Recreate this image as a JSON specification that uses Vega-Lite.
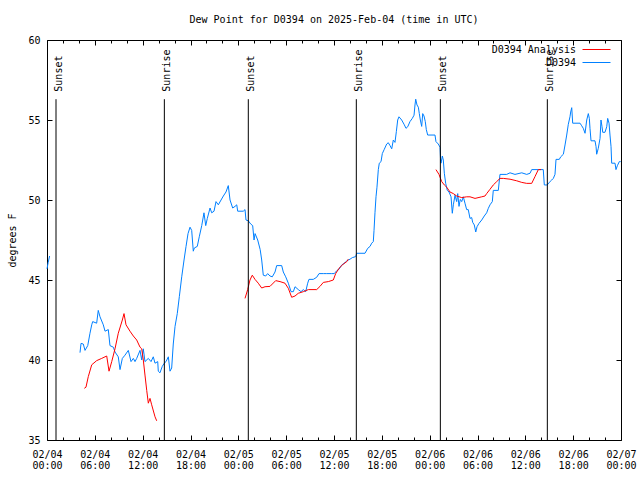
{
  "$schema": "https://vega.github.io/schema/vega-lite/v6.json",
  "width": 574,
  "height": 400,
  "autosize": "none",
  "padding": {"left": 47, "top": 40, "right": 19, "bottom": 40},
  "background": "white",
  "config": {
    "font": "DejaVu Sans Mono",
    "view": {"stroke": "black", "strokeWidth": 1},
    "axis": {"labelFont": "DejaVu Sans Mono", "labelFontSize": 10, "labelColor": "black", "titleFont": "DejaVu Sans Mono", "titleFontSize": 10, "titleFontWeight": "normal", "titleColor": "black", "tickColor": "black", "tickWidth": 1, "domain": false, "grid": false},
    "legend": {"labelFont": "DejaVu Sans Mono", "labelFontSize": 10, "labelColor": "black"}
  },
  "title": {"text": "Dew Point for D0394 on 2025-Feb-04 (time in UTC)", "font": "DejaVu Sans Mono", "fontSize": 10, "fontWeight": "normal", "color": "black", "anchor": "middle", "offset": 10},
  "datasets": {
    "obs": [
      {"series": "D0394", "seg": 1, "hour": 0.0, "dewpoint": 45.7},
      {"series": "D0394", "seg": 1, "hour": 0.15, "dewpoint": 46.1},
      {"series": "D0394", "seg": 1, "hour": 0.33, "dewpoint": 46.5},
      {"series": "D0394", "seg": 2, "hour": 4.14, "dewpoint": 40.46},
      {"series": "D0394", "seg": 2, "hour": 4.27, "dewpoint": 41.04},
      {"series": "D0394", "seg": 2, "hour": 4.55, "dewpoint": 41.0},
      {"series": "D0394", "seg": 2, "hour": 4.77, "dewpoint": 40.6},
      {"series": "D0394", "seg": 2, "hour": 5.11, "dewpoint": 40.9},
      {"series": "D0394", "seg": 2, "hour": 5.39, "dewpoint": 41.67},
      {"series": "D0394", "seg": 2, "hour": 5.61, "dewpoint": 42.2},
      {"series": "D0394", "seg": 2, "hour": 5.73, "dewpoint": 42.4},
      {"series": "D0394", "seg": 2, "hour": 6.23, "dewpoint": 42.3},
      {"series": "D0394", "seg": 2, "hour": 6.43, "dewpoint": 43.1},
      {"series": "D0394", "seg": 2, "hour": 6.65, "dewpoint": 42.7},
      {"series": "D0394", "seg": 2, "hour": 7.06, "dewpoint": 42.2},
      {"series": "D0394", "seg": 2, "hour": 7.28, "dewpoint": 41.8},
      {"series": "D0394", "seg": 2, "hour": 7.69, "dewpoint": 41.9},
      {"series": "D0394", "seg": 2, "hour": 7.9, "dewpoint": 40.9},
      {"series": "D0394", "seg": 2, "hour": 8.32, "dewpoint": 40.8},
      {"series": "D0394", "seg": 2, "hour": 8.53, "dewpoint": 40.5},
      {"series": "D0394", "seg": 2, "hour": 8.94, "dewpoint": 40.2},
      {"series": "D0394", "seg": 2, "hour": 9.16, "dewpoint": 39.4},
      {"series": "D0394", "seg": 2, "hour": 9.45, "dewpoint": 40.1},
      {"series": "D0394", "seg": 2, "hour": 9.78, "dewpoint": 40.3},
      {"series": "D0394", "seg": 2, "hour": 10.2, "dewpoint": 40.6},
      {"series": "D0394", "seg": 2, "hour": 10.54, "dewpoint": 39.9},
      {"series": "D0394", "seg": 2, "hour": 10.83, "dewpoint": 40.1},
      {"series": "D0394", "seg": 2, "hour": 11.04, "dewpoint": 39.9},
      {"series": "D0394", "seg": 2, "hour": 11.25, "dewpoint": 40.1},
      {"series": "D0394", "seg": 2, "hour": 11.67, "dewpoint": 40.6},
      {"series": "D0394", "seg": 2, "hour": 11.88, "dewpoint": 40.0},
      {"series": "D0394", "seg": 2, "hour": 12.08, "dewpoint": 40.7},
      {"series": "D0394", "seg": 2, "hour": 12.29, "dewpoint": 39.9},
      {"series": "D0394", "seg": 2, "hour": 12.71, "dewpoint": 40.1},
      {"series": "D0394", "seg": 2, "hour": 13.05, "dewpoint": 39.9},
      {"series": "D0394", "seg": 2, "hour": 13.33, "dewpoint": 40.2},
      {"series": "D0394", "seg": 2, "hour": 13.55, "dewpoint": 39.8},
      {"series": "D0394", "seg": 2, "hour": 13.89, "dewpoint": 39.9},
      {"series": "D0394", "seg": 2, "hour": 13.96, "dewpoint": 39.3},
      {"series": "D0394", "seg": 2, "hour": 14.17, "dewpoint": 39.2},
      {"series": "D0394", "seg": 2, "hour": 14.46, "dewpoint": 39.6},
      {"series": "D0394", "seg": 2, "hour": 14.71, "dewpoint": 39.8},
      {"series": "D0394", "seg": 2, "hour": 14.93, "dewpoint": 39.9},
      {"series": "D0394", "seg": 2, "hour": 15.22, "dewpoint": 40.2},
      {"series": "D0394", "seg": 2, "hour": 15.43, "dewpoint": 39.3},
      {"series": "D0394", "seg": 2, "hour": 15.64, "dewpoint": 39.5},
      {"series": "D0394", "seg": 2, "hour": 15.84, "dewpoint": 41.0},
      {"series": "D0394", "seg": 2, "hour": 16.06, "dewpoint": 42.1},
      {"series": "D0394", "seg": 2, "hour": 16.34, "dewpoint": 42.9},
      {"series": "D0394", "seg": 2, "hour": 16.6, "dewpoint": 43.96},
      {"series": "D0394", "seg": 2, "hour": 16.9, "dewpoint": 45.2},
      {"series": "D0394", "seg": 2, "hour": 17.19, "dewpoint": 46.25},
      {"series": "D0394", "seg": 2, "hour": 17.44, "dewpoint": 47.1},
      {"series": "D0394", "seg": 2, "hour": 17.69, "dewpoint": 47.9},
      {"series": "D0394", "seg": 2, "hour": 17.94, "dewpoint": 48.3},
      {"series": "D0394", "seg": 2, "hour": 18.15, "dewpoint": 48.1},
      {"series": "D0394", "seg": 2, "hour": 18.35, "dewpoint": 46.8},
      {"series": "D0394", "seg": 2, "hour": 18.48, "dewpoint": 47.0},
      {"series": "D0394", "seg": 2, "hour": 18.85, "dewpoint": 47.1},
      {"series": "D0394", "seg": 2, "hour": 19.1, "dewpoint": 47.7},
      {"series": "D0394", "seg": 2, "hour": 19.41, "dewpoint": 48.4},
      {"series": "D0394", "seg": 2, "hour": 19.69, "dewpoint": 49.2},
      {"series": "D0394", "seg": 2, "hour": 19.91, "dewpoint": 48.4},
      {"series": "D0394", "seg": 2, "hour": 20.11, "dewpoint": 48.85},
      {"series": "D0394", "seg": 2, "hour": 20.45, "dewpoint": 49.5},
      {"series": "D0394", "seg": 2, "hour": 20.66, "dewpoint": 49.2},
      {"series": "D0394", "seg": 2, "hour": 20.95, "dewpoint": 49.3},
      {"series": "D0394", "seg": 2, "hour": 21.2, "dewpoint": 49.9},
      {"series": "D0394", "seg": 2, "hour": 21.49, "dewpoint": 49.7},
      {"series": "D0394", "seg": 2, "hour": 21.83, "dewpoint": 50.0},
      {"series": "D0394", "seg": 2, "hour": 22.12, "dewpoint": 50.25},
      {"series": "D0394", "seg": 2, "hour": 22.45, "dewpoint": 50.5},
      {"series": "D0394", "seg": 2, "hour": 22.74, "dewpoint": 50.9},
      {"series": "D0394", "seg": 2, "hour": 22.96, "dewpoint": 50.0},
      {"series": "D0394", "seg": 2, "hour": 23.29, "dewpoint": 49.5},
      {"series": "D0394", "seg": 2, "hour": 23.58, "dewpoint": 49.6},
      {"series": "D0394", "seg": 2, "hour": 23.8, "dewpoint": 49.7},
      {"series": "D0394", "seg": 2, "hour": 23.92, "dewpoint": 49.3},
      {"series": "D0394", "seg": 2, "hour": 24.62, "dewpoint": 49.3},
      {"series": "D0394", "seg": 2, "hour": 24.84, "dewpoint": 49.4},
      {"series": "D0394", "seg": 2, "hour": 24.96, "dewpoint": 48.75},
      {"series": "D0394", "seg": 2, "hour": 25.25, "dewpoint": 48.7},
      {"series": "D0394", "seg": 2, "hour": 25.55, "dewpoint": 48.5},
      {"series": "D0394", "seg": 2, "hour": 25.8, "dewpoint": 48.4},
      {"series": "D0394", "seg": 2, "hour": 25.97, "dewpoint": 47.5},
      {"series": "D0394", "seg": 2, "hour": 26.1, "dewpoint": 47.9},
      {"series": "D0394", "seg": 2, "hour": 26.43, "dewpoint": 47.5},
      {"series": "D0394", "seg": 2, "hour": 26.74, "dewpoint": 46.9},
      {"series": "D0394", "seg": 2, "hour": 26.93, "dewpoint": 46.25},
      {"series": "D0394", "seg": 2, "hour": 27.13, "dewpoint": 45.3},
      {"series": "D0394", "seg": 2, "hour": 27.43, "dewpoint": 45.25},
      {"series": "D0394", "seg": 2, "hour": 27.68, "dewpoint": 45.4},
      {"series": "D0394", "seg": 2, "hour": 27.97, "dewpoint": 45.25},
      {"series": "D0394", "seg": 2, "hour": 28.26, "dewpoint": 45.2},
      {"series": "D0394", "seg": 2, "hour": 28.6, "dewpoint": 45.5},
      {"series": "D0394", "seg": 2, "hour": 28.81, "dewpoint": 45.9},
      {"series": "D0394", "seg": 2, "hour": 29.44, "dewpoint": 45.9},
      {"series": "D0394", "seg": 2, "hour": 29.64, "dewpoint": 45.5},
      {"series": "D0394", "seg": 2, "hour": 29.94, "dewpoint": 45.2},
      {"series": "D0394", "seg": 2, "hour": 30.27, "dewpoint": 44.8},
      {"series": "D0394", "seg": 2, "hour": 30.61, "dewpoint": 44.27},
      {"series": "D0394", "seg": 2, "hour": 30.9, "dewpoint": 44.27},
      {"series": "D0394", "seg": 2, "hour": 31.11, "dewpoint": 44.58},
      {"series": "D0394", "seg": 2, "hour": 31.52, "dewpoint": 44.4},
      {"series": "D0394", "seg": 2, "hour": 31.86, "dewpoint": 44.27},
      {"series": "D0394", "seg": 2, "hour": 32.15, "dewpoint": 44.4},
      {"series": "D0394", "seg": 2, "hour": 32.45, "dewpoint": 44.27},
      {"series": "D0394", "seg": 2, "hour": 32.7, "dewpoint": 44.8},
      {"series": "D0394", "seg": 2, "hour": 32.86, "dewpoint": 45.04},
      {"series": "D0394", "seg": 2, "hour": 33.4, "dewpoint": 45.04},
      {"series": "D0394", "seg": 2, "hour": 33.83, "dewpoint": 45.17},
      {"series": "D0394", "seg": 2, "hour": 34.12, "dewpoint": 45.4},
      {"series": "D0394", "seg": 2, "hour": 34.66, "dewpoint": 45.4},
      {"series": "D0394", "seg": 2, "hour": 35.09, "dewpoint": 45.4},
      {"series": "D0394", "seg": 2, "hour": 35.71, "dewpoint": 45.4},
      {"series": "D0394", "seg": 2, "hour": 36.04, "dewpoint": 45.4},
      {"series": "D0394", "seg": 2, "hour": 36.34, "dewpoint": 45.58},
      {"series": "D0394", "seg": 2, "hour": 36.63, "dewpoint": 45.67},
      {"series": "D0394", "seg": 2, "hour": 36.97, "dewpoint": 45.94},
      {"series": "D0394", "seg": 2, "hour": 37.38, "dewpoint": 46.08},
      {"series": "D0394", "seg": 2, "hour": 37.59, "dewpoint": 46.2},
      {"series": "D0394", "seg": 2, "hour": 38.01, "dewpoint": 46.3},
      {"series": "D0394", "seg": 2, "hour": 38.3, "dewpoint": 46.4},
      {"series": "D0394", "seg": 2, "hour": 38.72, "dewpoint": 46.46},
      {"series": "D0394", "seg": 2, "hour": 38.85, "dewpoint": 46.67},
      {"series": "D0394", "seg": 2, "hour": 39.89, "dewpoint": 46.67},
      {"series": "D0394", "seg": 2, "hour": 40.23, "dewpoint": 46.98},
      {"series": "D0394", "seg": 2, "hour": 40.52, "dewpoint": 47.1},
      {"series": "D0394", "seg": 2, "hour": 40.73, "dewpoint": 47.3},
      {"series": "D0394", "seg": 2, "hour": 40.93, "dewpoint": 47.4},
      {"series": "D0394", "seg": 2, "hour": 41.02, "dewpoint": 48.1},
      {"series": "D0394", "seg": 2, "hour": 41.14, "dewpoint": 49.2},
      {"series": "D0394", "seg": 2, "hour": 41.27, "dewpoint": 50.2},
      {"series": "D0394", "seg": 2, "hour": 41.39, "dewpoint": 50.8},
      {"series": "D0394", "seg": 2, "hour": 41.56, "dewpoint": 51.9},
      {"series": "D0394", "seg": 2, "hour": 41.68, "dewpoint": 52.3},
      {"series": "D0394", "seg": 2, "hour": 41.9, "dewpoint": 52.4},
      {"series": "D0394", "seg": 2, "hour": 42.06, "dewpoint": 52.9},
      {"series": "D0394", "seg": 2, "hour": 42.31, "dewpoint": 53.17},
      {"series": "D0394", "seg": 2, "hour": 42.61, "dewpoint": 53.5},
      {"series": "D0394", "seg": 2, "hour": 42.81, "dewpoint": 53.58},
      {"series": "D0394", "seg": 2, "hour": 43.03, "dewpoint": 53.4},
      {"series": "D0394", "seg": 2, "hour": 43.24, "dewpoint": 53.2},
      {"series": "D0394", "seg": 2, "hour": 43.44, "dewpoint": 53.75},
      {"series": "D0394", "seg": 2, "hour": 43.65, "dewpoint": 53.6},
      {"series": "D0394", "seg": 2, "hour": 43.82, "dewpoint": 54.27},
      {"series": "D0394", "seg": 2, "hour": 43.99, "dewpoint": 55.0},
      {"series": "D0394", "seg": 2, "hour": 44.15, "dewpoint": 55.2},
      {"series": "D0394", "seg": 2, "hour": 44.49, "dewpoint": 55.0},
      {"series": "D0394", "seg": 2, "hour": 44.82, "dewpoint": 54.7},
      {"series": "D0394", "seg": 2, "hour": 45.03, "dewpoint": 54.48},
      {"series": "D0394", "seg": 2, "hour": 45.25, "dewpoint": 54.58},
      {"series": "D0394", "seg": 2, "hour": 45.53, "dewpoint": 54.9},
      {"series": "D0394", "seg": 2, "hour": 45.82, "dewpoint": 55.1},
      {"series": "D0394", "seg": 2, "hour": 46.04, "dewpoint": 55.3},
      {"series": "D0394", "seg": 2, "hour": 46.16, "dewpoint": 55.94},
      {"series": "D0394", "seg": 2, "hour": 46.25, "dewpoint": 56.3},
      {"series": "D0394", "seg": 2, "hour": 46.41, "dewpoint": 55.94},
      {"series": "D0394", "seg": 2, "hour": 46.58, "dewpoint": 55.8},
      {"series": "D0394", "seg": 2, "hour": 46.7, "dewpoint": 55.4},
      {"series": "D0394", "seg": 2, "hour": 46.83, "dewpoint": 55.0},
      {"series": "D0394", "seg": 2, "hour": 47.0, "dewpoint": 54.6},
      {"series": "D0394", "seg": 2, "hour": 47.13, "dewpoint": 55.4},
      {"series": "D0394", "seg": 2, "hour": 47.29, "dewpoint": 55.25},
      {"series": "D0394", "seg": 2, "hour": 47.45, "dewpoint": 54.9},
      {"series": "D0394", "seg": 2, "hour": 47.58, "dewpoint": 54.4},
      {"series": "D0394", "seg": 2, "hour": 47.75, "dewpoint": 54.06},
      {"series": "D0394", "seg": 2, "hour": 48.67, "dewpoint": 54.06},
      {"series": "D0394", "seg": 2, "hour": 48.79, "dewpoint": 53.65},
      {"series": "D0394", "seg": 2, "hour": 49.08, "dewpoint": 53.5},
      {"series": "D0394", "seg": 2, "hour": 49.3, "dewpoint": 53.3},
      {"series": "D0394", "seg": 2, "hour": 49.36, "dewpoint": 52.6},
      {"series": "D0394", "seg": 2, "hour": 49.42, "dewpoint": 52.3},
      {"series": "D0394", "seg": 2, "hour": 49.59, "dewpoint": 52.75},
      {"series": "D0394", "seg": 2, "hour": 49.71, "dewpoint": 52.5},
      {"series": "D0394", "seg": 2, "hour": 49.84, "dewpoint": 51.67},
      {"series": "D0394", "seg": 2, "hour": 50.01, "dewpoint": 51.04},
      {"series": "D0394", "seg": 2, "hour": 50.21, "dewpoint": 50.6},
      {"series": "D0394", "seg": 2, "hour": 50.43, "dewpoint": 50.5},
      {"series": "D0394", "seg": 2, "hour": 50.68, "dewpoint": 50.2},
      {"series": "D0394", "seg": 2, "hour": 50.84, "dewpoint": 49.17},
      {"series": "D0394", "seg": 2, "hour": 50.97, "dewpoint": 49.7},
      {"series": "D0394", "seg": 2, "hour": 51.18, "dewpoint": 50.3},
      {"series": "D0394", "seg": 2, "hour": 51.39, "dewpoint": 49.9},
      {"series": "D0394", "seg": 2, "hour": 51.52, "dewpoint": 50.4},
      {"series": "D0394", "seg": 2, "hour": 51.68, "dewpoint": 49.6},
      {"series": "D0394", "seg": 2, "hour": 51.84, "dewpoint": 50.04},
      {"series": "D0394", "seg": 2, "hour": 52.02, "dewpoint": 49.9},
      {"series": "D0394", "seg": 2, "hour": 52.22, "dewpoint": 50.2},
      {"series": "D0394", "seg": 2, "hour": 52.43, "dewpoint": 49.8},
      {"series": "D0394", "seg": 2, "hour": 52.64, "dewpoint": 49.4},
      {"series": "D0394", "seg": 2, "hour": 52.84, "dewpoint": 49.4},
      {"series": "D0394", "seg": 2, "hour": 53.06, "dewpoint": 48.85},
      {"series": "D0394", "seg": 2, "hour": 53.27, "dewpoint": 48.9},
      {"series": "D0394", "seg": 2, "hour": 53.4, "dewpoint": 48.6},
      {"series": "D0394", "seg": 2, "hour": 53.6, "dewpoint": 48.44},
      {"series": "D0394", "seg": 2, "hour": 53.78, "dewpoint": 48.0},
      {"series": "D0394", "seg": 2, "hour": 53.94, "dewpoint": 48.33},
      {"series": "D0394", "seg": 2, "hour": 54.19, "dewpoint": 48.54},
      {"series": "D0394", "seg": 2, "hour": 54.53, "dewpoint": 48.75},
      {"series": "D0394", "seg": 2, "hour": 54.85, "dewpoint": 49.0},
      {"series": "D0394", "seg": 2, "hour": 55.15, "dewpoint": 49.2},
      {"series": "D0394", "seg": 2, "hour": 55.36, "dewpoint": 49.48},
      {"series": "D0394", "seg": 2, "hour": 55.57, "dewpoint": 49.7},
      {"series": "D0394", "seg": 2, "hour": 55.86, "dewpoint": 49.9},
      {"series": "D0394", "seg": 2, "hour": 55.98, "dewpoint": 50.6},
      {"series": "D0394", "seg": 2, "hour": 56.61, "dewpoint": 50.6},
      {"series": "D0394", "seg": 2, "hour": 56.82, "dewpoint": 51.6},
      {"series": "D0394", "seg": 2, "hour": 57.66, "dewpoint": 51.6},
      {"series": "D0394", "seg": 2, "hour": 58.08, "dewpoint": 51.7},
      {"series": "D0394", "seg": 2, "hour": 58.7, "dewpoint": 51.6},
      {"series": "D0394", "seg": 2, "hour": 59.55, "dewpoint": 51.7},
      {"series": "D0394", "seg": 2, "hour": 60.17, "dewpoint": 51.6},
      {"series": "D0394", "seg": 2, "hour": 60.59, "dewpoint": 51.67},
      {"series": "D0394", "seg": 2, "hour": 60.8, "dewpoint": 51.9},
      {"series": "D0394", "seg": 2, "hour": 61.63, "dewpoint": 51.9},
      {"series": "D0394", "seg": 2, "hour": 62.25, "dewpoint": 51.9},
      {"series": "D0394", "seg": 2, "hour": 62.38, "dewpoint": 50.94},
      {"series": "D0394", "seg": 2, "hour": 62.75, "dewpoint": 50.94},
      {"series": "D0394", "seg": 2, "hour": 63.0, "dewpoint": 51.1},
      {"series": "D0394", "seg": 2, "hour": 63.31, "dewpoint": 51.25},
      {"series": "D0394", "seg": 2, "hour": 63.51, "dewpoint": 51.35},
      {"series": "D0394", "seg": 2, "hour": 63.72, "dewpoint": 51.6},
      {"series": "D0394", "seg": 2, "hour": 63.85, "dewpoint": 52.54},
      {"series": "D0394", "seg": 2, "hour": 64.26, "dewpoint": 52.54},
      {"series": "D0394", "seg": 2, "hour": 64.44, "dewpoint": 52.7},
      {"series": "D0394", "seg": 2, "hour": 64.77, "dewpoint": 52.86},
      {"series": "D0394", "seg": 2, "hour": 64.98, "dewpoint": 53.44},
      {"series": "D0394", "seg": 2, "hour": 65.19, "dewpoint": 54.06},
      {"series": "D0394", "seg": 2, "hour": 65.39, "dewpoint": 54.73},
      {"series": "D0394", "seg": 2, "hour": 65.6, "dewpoint": 55.2},
      {"series": "D0394", "seg": 2, "hour": 65.69, "dewpoint": 55.5},
      {"series": "D0394", "seg": 2, "hour": 65.82, "dewpoint": 55.77},
      {"series": "D0394", "seg": 2, "hour": 65.94, "dewpoint": 54.8},
      {"series": "D0394", "seg": 2, "hour": 66.86, "dewpoint": 54.8},
      {"series": "D0394", "seg": 2, "hour": 67.07, "dewpoint": 54.64},
      {"series": "D0394", "seg": 2, "hour": 67.27, "dewpoint": 54.48},
      {"series": "D0394", "seg": 2, "hour": 67.49, "dewpoint": 54.17},
      {"series": "D0394", "seg": 2, "hour": 67.7, "dewpoint": 55.0},
      {"series": "D0394", "seg": 2, "hour": 67.9, "dewpoint": 55.4},
      {"series": "D0394", "seg": 2, "hour": 68.03, "dewpoint": 55.1},
      {"series": "D0394", "seg": 2, "hour": 68.11, "dewpoint": 54.48},
      {"series": "D0394", "seg": 2, "hour": 68.24, "dewpoint": 53.7},
      {"series": "D0394", "seg": 2, "hour": 68.74, "dewpoint": 53.7},
      {"series": "D0394", "seg": 2, "hour": 68.87, "dewpoint": 53.33},
      {"series": "D0394", "seg": 2, "hour": 68.95, "dewpoint": 52.86},
      {"series": "D0394", "seg": 2, "hour": 69.15, "dewpoint": 53.23},
      {"series": "D0394", "seg": 2, "hour": 69.37, "dewpoint": 53.85},
      {"series": "D0394", "seg": 2, "hour": 69.49, "dewpoint": 55.0},
      {"series": "D0394", "seg": 2, "hour": 69.62, "dewpoint": 54.58},
      {"series": "D0394", "seg": 2, "hour": 69.71, "dewpoint": 54.23},
      {"series": "D0394", "seg": 2, "hour": 69.99, "dewpoint": 54.23},
      {"series": "D0394", "seg": 2, "hour": 70.21, "dewpoint": 54.58},
      {"series": "D0394", "seg": 2, "hour": 70.33, "dewpoint": 55.1},
      {"series": "D0394", "seg": 2, "hour": 70.5, "dewpoint": 54.8},
      {"series": "D0394", "seg": 2, "hour": 70.62, "dewpoint": 54.06},
      {"series": "D0394", "seg": 2, "hour": 70.75, "dewpoint": 53.33},
      {"series": "D0394", "seg": 2, "hour": 70.83, "dewpoint": 52.3},
      {"series": "D0394", "seg": 2, "hour": 71.25, "dewpoint": 52.3},
      {"series": "D0394", "seg": 2, "hour": 71.37, "dewpoint": 51.9},
      {"series": "D0394", "seg": 2, "hour": 71.54, "dewpoint": 52.14},
      {"series": "D0394", "seg": 2, "hour": 71.79, "dewpoint": 52.4},
      {"series": "D0394", "seg": 2, "hour": 71.96, "dewpoint": 52.4},
      {"series": "D0394 Analysis", "seg": 1, "hour": 4.68, "dewpoint": 38.23},
      {"series": "D0394 Analysis", "seg": 1, "hour": 4.89, "dewpoint": 38.3},
      {"series": "D0394 Analysis", "seg": 1, "hour": 5.18, "dewpoint": 38.96},
      {"series": "D0394 Analysis", "seg": 1, "hour": 5.61, "dewpoint": 39.7},
      {"series": "D0394 Analysis", "seg": 1, "hour": 6.23, "dewpoint": 39.96},
      {"series": "D0394 Analysis", "seg": 1, "hour": 6.86, "dewpoint": 40.1},
      {"series": "D0394 Analysis", "seg": 1, "hour": 7.49, "dewpoint": 40.25},
      {"series": "D0394 Analysis", "seg": 1, "hour": 7.78, "dewpoint": 39.3},
      {"series": "D0394 Analysis", "seg": 1, "hour": 8.12, "dewpoint": 39.9},
      {"series": "D0394 Analysis", "seg": 1, "hour": 8.53, "dewpoint": 40.7},
      {"series": "D0394 Analysis", "seg": 1, "hour": 8.94, "dewpoint": 41.67},
      {"series": "D0394 Analysis", "seg": 1, "hour": 9.45, "dewpoint": 42.5},
      {"series": "D0394 Analysis", "seg": 1, "hour": 9.66, "dewpoint": 42.9},
      {"series": "D0394 Analysis", "seg": 1, "hour": 9.91, "dewpoint": 42.2},
      {"series": "D0394 Analysis", "seg": 1, "hour": 10.41, "dewpoint": 41.8},
      {"series": "D0394 Analysis", "seg": 1, "hour": 10.83, "dewpoint": 41.5},
      {"series": "D0394 Analysis", "seg": 1, "hour": 11.25, "dewpoint": 41.25},
      {"series": "D0394 Analysis", "seg": 1, "hour": 11.67, "dewpoint": 40.8},
      {"series": "D0394 Analysis", "seg": 1, "hour": 11.88, "dewpoint": 40.7},
      {"series": "D0394 Analysis", "seg": 1, "hour": 12.08, "dewpoint": 40.0},
      {"series": "D0394 Analysis", "seg": 1, "hour": 12.29, "dewpoint": 39.06},
      {"series": "D0394 Analysis", "seg": 1, "hour": 12.51, "dewpoint": 38.1},
      {"series": "D0394 Analysis", "seg": 1, "hour": 12.71, "dewpoint": 37.3},
      {"series": "D0394 Analysis", "seg": 1, "hour": 12.92, "dewpoint": 37.6},
      {"series": "D0394 Analysis", "seg": 1, "hour": 13.13, "dewpoint": 37.2},
      {"series": "D0394 Analysis", "seg": 1, "hour": 13.55, "dewpoint": 36.45},
      {"series": "D0394 Analysis", "seg": 1, "hour": 13.76, "dewpoint": 36.2},
      {"series": "D0394 Analysis", "seg": 2, "hour": 24.84, "dewpoint": 43.85},
      {"series": "D0394 Analysis", "seg": 2, "hour": 25.17, "dewpoint": 44.4},
      {"series": "D0394 Analysis", "seg": 2, "hour": 25.46, "dewpoint": 45.0},
      {"series": "D0394 Analysis", "seg": 2, "hour": 25.75, "dewpoint": 45.3},
      {"series": "D0394 Analysis", "seg": 2, "hour": 26.09, "dewpoint": 45.04},
      {"series": "D0394 Analysis", "seg": 2, "hour": 26.5, "dewpoint": 44.8},
      {"series": "D0394 Analysis", "seg": 2, "hour": 26.93, "dewpoint": 44.5},
      {"series": "D0394 Analysis", "seg": 2, "hour": 27.35, "dewpoint": 44.58},
      {"series": "D0394 Analysis", "seg": 2, "hour": 27.97, "dewpoint": 44.6},
      {"series": "D0394 Analysis", "seg": 2, "hour": 28.69, "dewpoint": 44.96},
      {"series": "D0394 Analysis", "seg": 2, "hour": 29.23, "dewpoint": 44.9},
      {"series": "D0394 Analysis", "seg": 2, "hour": 29.85, "dewpoint": 44.8},
      {"series": "D0394 Analysis", "seg": 2, "hour": 30.27, "dewpoint": 44.48},
      {"series": "D0394 Analysis", "seg": 2, "hour": 30.69, "dewpoint": 43.92},
      {"series": "D0394 Analysis", "seg": 2, "hour": 31.11, "dewpoint": 44.0},
      {"series": "D0394 Analysis", "seg": 2, "hour": 31.52, "dewpoint": 44.17},
      {"series": "D0394 Analysis", "seg": 2, "hour": 32.15, "dewpoint": 44.27},
      {"series": "D0394 Analysis", "seg": 2, "hour": 32.78, "dewpoint": 44.4},
      {"series": "D0394 Analysis", "seg": 2, "hour": 33.83, "dewpoint": 44.4},
      {"series": "D0394 Analysis", "seg": 2, "hour": 34.24, "dewpoint": 44.6},
      {"series": "D0394 Analysis", "seg": 2, "hour": 34.66, "dewpoint": 44.85},
      {"series": "D0394 Analysis", "seg": 2, "hour": 35.29, "dewpoint": 44.9},
      {"series": "D0394 Analysis", "seg": 2, "hour": 35.91, "dewpoint": 45.0},
      {"series": "D0394 Analysis", "seg": 2, "hour": 36.21, "dewpoint": 45.4},
      {"series": "D0394 Analysis", "seg": 2, "hour": 36.63, "dewpoint": 45.73},
      {"series": "D0394 Analysis", "seg": 2, "hour": 37.17, "dewpoint": 46.0},
      {"series": "D0394 Analysis", "seg": 2, "hour": 37.59, "dewpoint": 46.14},
      {"series": "D0394 Analysis", "seg": 2, "hour": 37.79, "dewpoint": 46.3},
      {"series": "D0394 Analysis", "seg": 3, "hour": 48.79, "dewpoint": 51.9},
      {"series": "D0394 Analysis", "seg": 3, "hour": 49.17, "dewpoint": 51.6},
      {"series": "D0394 Analysis", "seg": 3, "hour": 49.51, "dewpoint": 51.15},
      {"series": "D0394 Analysis", "seg": 3, "hour": 49.84, "dewpoint": 50.94},
      {"series": "D0394 Analysis", "seg": 3, "hour": 50.14, "dewpoint": 50.8},
      {"series": "D0394 Analysis", "seg": 3, "hour": 50.55, "dewpoint": 50.5},
      {"series": "D0394 Analysis", "seg": 3, "hour": 50.97, "dewpoint": 50.4},
      {"series": "D0394 Analysis", "seg": 3, "hour": 51.39, "dewpoint": 50.25},
      {"series": "D0394 Analysis", "seg": 3, "hour": 52.02, "dewpoint": 50.15},
      {"series": "D0394 Analysis", "seg": 3, "hour": 52.64, "dewpoint": 50.2},
      {"series": "D0394 Analysis", "seg": 3, "hour": 53.06, "dewpoint": 50.2},
      {"series": "D0394 Analysis", "seg": 3, "hour": 53.69, "dewpoint": 50.1},
      {"series": "D0394 Analysis", "seg": 3, "hour": 54.53, "dewpoint": 50.2},
      {"series": "D0394 Analysis", "seg": 3, "hour": 54.94, "dewpoint": 50.25},
      {"series": "D0394 Analysis", "seg": 3, "hour": 55.15, "dewpoint": 50.4},
      {"series": "D0394 Analysis", "seg": 3, "hour": 55.57, "dewpoint": 50.67},
      {"series": "D0394 Analysis", "seg": 3, "hour": 55.98, "dewpoint": 50.94},
      {"series": "D0394 Analysis", "seg": 3, "hour": 56.41, "dewpoint": 51.15},
      {"series": "D0394 Analysis", "seg": 3, "hour": 56.82, "dewpoint": 51.35},
      {"series": "D0394 Analysis", "seg": 3, "hour": 57.24, "dewpoint": 51.35},
      {"series": "D0394 Analysis", "seg": 3, "hour": 58.08, "dewpoint": 51.3},
      {"series": "D0394 Analysis", "seg": 3, "hour": 58.92, "dewpoint": 51.2},
      {"series": "D0394 Analysis", "seg": 3, "hour": 59.55, "dewpoint": 51.1},
      {"series": "D0394 Analysis", "seg": 3, "hour": 60.17, "dewpoint": 51.04},
      {"series": "D0394 Analysis", "seg": 3, "hour": 60.8, "dewpoint": 51.04},
      {"series": "D0394 Analysis", "seg": 3, "hour": 61.21, "dewpoint": 51.46},
      {"series": "D0394 Analysis", "seg": 3, "hour": 61.63, "dewpoint": 51.9},
      {"series": "D0394 Analysis", "seg": 3, "hour": 61.97, "dewpoint": 51.9}
    ],
    "sun": [
      {"event": "Sunset", "hour": 1.13},
      {"event": "Sunrise", "hour": 14.72},
      {"event": "Sunset", "hour": 25.25},
      {"event": "Sunrise", "hour": 38.8},
      {"event": "Sunset", "hour": 49.34},
      {"event": "Sunrise", "hour": 62.76}
    ]
  },
  "layer": [
    {
      "data": {"name": "obs"},
      "transform": [{"filter": "datum.series == 'D0394'"}],
      "mark": {"type": "line", "strokeWidth": 1},
      "encoding": {
        "x": {"field": "hour", "type": "quantitative", "scale": {"domain": [0, 72], "nice": false, "zero": false},
          "axis": {"orient": "bottom", "title": null, "values": [0, 6, 12, 18, 24, 30, 36, 42, 48, 54, 60, 66, 72], "tickSize": -5, "labelPadding": 14, "labelLineHeight": 11, "labelFlush": false, "labelOverlap": false,
            "labelExpr": "['02/0' + (4 + floor(datum.value / 24)), (datum.value % 24 < 10 ? '0' : '') + (datum.value % 24) + ':00']"}},
        "y": {"field": "dewpoint", "type": "quantitative", "scale": {"domain": [35, 60], "nice": false, "zero": false},
          "axis": {"orient": "left", "title": "degrees F", "values": [35, 40, 45, 50, 55, 60], "tickSize": -5, "labelPadding": 12, "titlePadding": 10}},
        "color": {"field": "series", "type": "nominal", "scale": {"domain": ["D0394 Analysis", "D0394"], "range": ["#ff0000", "#0080ff"]},
          "legend": {"orient": "none", "legendX": 544, "legendY": 4, "title": null, "symbolType": "M-2.8,0H2.8", "symbolSize": 100, "symbolStrokeWidth": 1, "labelAlign": "right", "labelOffset": -26, "rowPadding": 2, "padding": 0}},
        "detail": {"field": "seg", "type": "nominal"}
      }
    },
    {
      "data": {"name": "obs"},
      "transform": [{"filter": "datum.series == 'D0394 Analysis'"}],
      "mark": {"type": "line", "strokeWidth": 1},
      "encoding": {
        "x": {"field": "hour", "type": "quantitative",
          "axis": {"orient": "bottom", "title": null, "values": [2, 4, 8, 10, 14, 16, 20, 22, 26, 28, 32, 34, 38, 40, 44, 46, 50, 52, 56, 58, 62, 64, 68, 70], "tickSize": -3, "labels": false}},
        "y": {"field": "dewpoint", "type": "quantitative",
          "axis": {"orient": "right", "title": null, "values": [35, 40, 45, 50, 55, 60], "tickSize": -5, "labels": false}},
        "color": {"field": "series", "type": "nominal"},
        "detail": {"field": "seg", "type": "nominal"}
      }
    },
    {
      "data": {"name": "sun"},
      "mark": {"type": "rule", "color": "black", "strokeWidth": 1},
      "encoding": {
        "x": {"field": "hour", "type": "quantitative",
          "axis": {"orient": "top", "title": null, "values": [0, 6, 12, 18, 24, 30, 36, 42, 48, 54, 60, 66, 72], "tickSize": -5, "labels": false}},
        "y": {"datum": 35, "axis": null},
        "y2": {"datum": 56.3}
      }
    },
    {
      "data": {"name": "sun"},
      "mark": {"type": "text", "color": "black", "font": "DejaVu Sans Mono", "fontSize": 10, "angle": 270, "align": "left", "baseline": "alphabetic", "dy": 5.5},
      "encoding": {
        "x": {"field": "hour", "type": "quantitative",
          "axis": {"orient": "top", "title": null, "values": [2, 4, 8, 10, 14, 16, 20, 22, 26, 28, 32, 34, 38, 40, 44, 46, 50, 52, 56, 58, 62, 64, 68, 70], "tickSize": -3, "labels": false}},
        "y": {"datum": 56.77, "axis": null},
        "text": {"field": "event", "type": "nominal"}
      }
    }
  ],
  "resolve": {"axis": {"x": "independent", "y": "independent"}}
}
